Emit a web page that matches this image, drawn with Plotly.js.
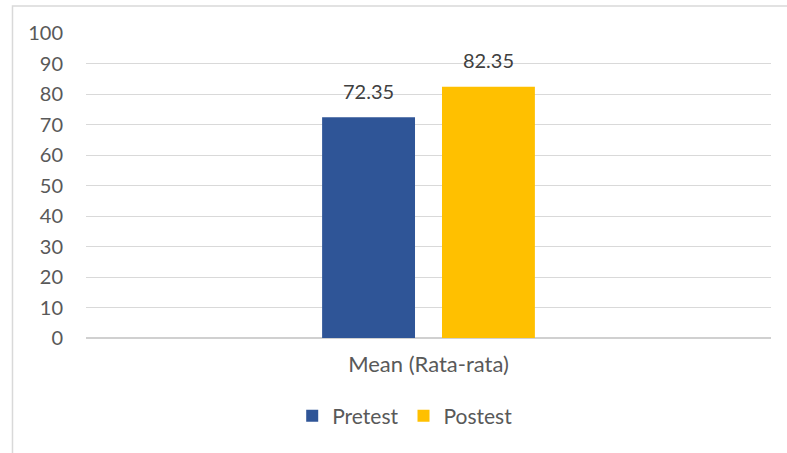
<!DOCTYPE html>
<html>
<head>
<meta charset="utf-8">
<script src="https://cdn.plot.ly/plotly-3.0.1.min.js"></script>
<style>html,body{margin:0;padding:0;background:#fff;}#chart{width:787px;height:453px;}</style>
</head>
<body>
<div id="chart"></div>
<script>
const categories = ["Mean (Rata-rata)"];
const seriesNames = ["Pretest", "Postest"];
const pretest = [72.35];
const postest = [82.35];
const colors = ["#2F5597", "#FFC000"];
const fnt = "Lato, 'Open Sans', sans-serif";

const values = [pretest, postest];
const bars = seriesNames.map((n, i) => ({
  type: "bar",
  name: n,
  x: categories,
  y: values[i],
  marker: {color: colors[i]},
  hoverinfo: "none"
}));
const labels = seriesNames.map((n, i) => ({
  type: "scatter",
  mode: "markers+text",
  name: n + " label",
  showlegend: false,
  x: categories,
  y: values[i],
  marker: {size: 20, opacity: 0},
  text: values[i].map(v => v.toFixed(2)),
  textposition: "top center",
  cliponaxis: false,
  textfont: {family: fnt, size: 20, color: "#404040"},
  hoverinfo: "none"
}));

const layout = {
  width: 787, height: 453,
  margin: {l: 86, r: 16, t: 33, b: 115},
  paper_bgcolor: "#fff", plot_bgcolor: "#fff",
  barmode: "group", bargap: 0.65, bargroupgap: 0.225,
  scattermode: "group", scattergap: 0.65,
  font: {family: fnt, color: "#595959", size: 20},
  yaxis: {
    range: [0, 100], dtick: 10, tick0: 0,
    showgrid: true, gridcolor: "#d9d9d9", gridwidth: 1,
    zeroline: true, zerolinecolor: "#d0d0d0", zerolinewidth: 1.5,
    showline: false, ticks: "", ticklabelstandoff: 22,
    tickfont: {family: fnt, size: 20, color: "#595959"}
  },
  xaxis: {
    showline: false, ticks: "", showgrid: false,
    tickfont: {family: fnt, size: 22, color: "#595959"},
    ticklabelstandoff: 11
  },
  showlegend: true,
  legend: {orientation: "h", x: 0.466, xanchor: "center", y: -0.256, yanchor: "middle",
    font: {family: fnt, size: 21, color: "#595959"}, itemwidth: 30, traceorder: "normal"},
  shapes: [{type: "rect", xref: "paper", yref: "paper",
    x0: -0.1073, x1: 1.1, y0: -0.5, y1: 1.0885,
    line: {color: "#d9d9d9", width: 1.5}, fillcolor: "rgba(0,0,0,0)", layer: "below"}]
};

Plotly.newPlot("chart", bars.concat(labels), layout, {displayModeBar: false, staticPlot: true});
</script>
</body>
</html>
